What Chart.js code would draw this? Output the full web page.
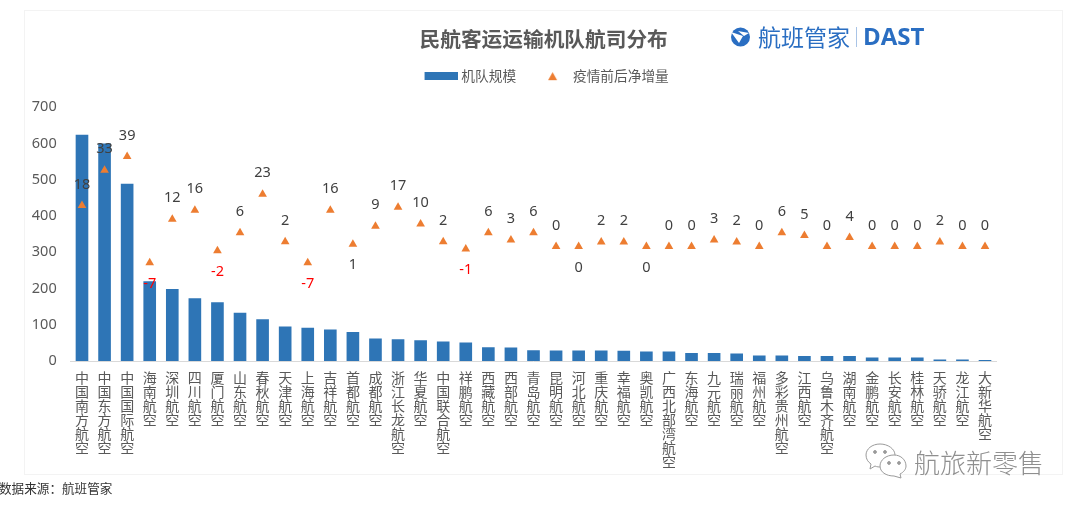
<!DOCTYPE html>
<html lang="zh">
<head>
<meta charset="utf-8">
<title>民航客运运输机队航司分布</title>
<script src="https://cdn.jsdelivr.net/npm/chart.js@4"></script>
<style>
    body { margin: 0; background: #fff; overflow: hidden; font-family: "Noto Sans CJK SC", sans-serif; }
    #wrap { position: relative; width: 1080px; height: 510px; overflow: hidden; }
    #card { position: absolute; left: 24px; top: 10px; width: 1037px; height: 463px; border: 1px solid #f3f3f3; }
    canvas { position: absolute; left: 0; top: 0; }
    .note { position: absolute; white-space: nowrap; line-height: 1; }
    #source { left: -1px; top: 482px; font-size: 12.6px; color: #333; }
    #logo-cn { left: 758px; top: 25px; font-size: 23px; color: #2a6ec2; }
    #logo-bar { left: 856px; top: 27px; width: 1px; height: 20px; background: #a9c4e6; }
    #logo-en { left: 863px; top: 24px; font-size: 24px; font-weight: 700; color: #2a6ec2; font-family: "Open Sans", sans-serif; }
    #mark { left: 914px; top: 449px; font-size: 26px; color: #8f8f8f; font-weight: 300; }
    svg { position: absolute; }
</style>
</head>
<body>
<div id="wrap">
    <div id="card"></div>
    <canvas id="fleet-chart" width="1080" height="510"></canvas>
    <svg style="left:730px;top:27px" width="21" height="20" viewBox="0 0 21 20">
        <circle cx="10.5" cy="10" r="9.5" fill="#2a6ec2"/>
        <path d="M1 5 L13 9 L9 16 Z M8 4 L19 6 L14 9 Z" fill="#fff"/>
    </svg>
    <span class="note" id="logo-cn">航班管家</span>
    <div class="note" id="logo-bar"></div>
    <span class="note" id="logo-en">DAST</span>
    <span class="note" id="source">数据来源：航班管家</span>
    <svg style="left:865px;top:443px" width="44" height="36" viewBox="0 0 44 36" fill="#fff" stroke="#9a9a9a" stroke-width="1">
        <path d="M15 1 C7 1 1 6 1 12 C1 16 3 19 6 21 L5 26 L10 23 C12 24 14 24 16 24 C24 24 30 19 30 12 C30 6 23 1 15 1 Z"/>
        <path d="M29 12 C21 12 15 17 15 23 C15 29 21 33 29 33 L36 35 L35 31 C39 29 41 26 41 23 C41 17 36 12 29 12 Z"/>
        <circle cx="10" cy="9" r="1.4" fill="#9a9a9a"/><circle cx="20" cy="9" r="1.4" fill="#9a9a9a"/>
        <circle cx="24" cy="20" r="1.4" fill="#9a9a9a"/><circle cx="34" cy="20" r="1.4" fill="#9a9a9a"/>
    </svg>
    <span class="note" id="mark">航旅新零售</span>
</div>
<script>
const categories = ['中国南方航空', '中国东方航空', '中国国际航空', '海南航空', '深圳航空', '四川航空', '厦门航空',
    '山东航空', '春秋航空', '天津航空', '上海航空', '吉祥航空', '首都航空', '成都航空', '浙江长龙航空', '华夏航空',
    '中国联合航空', '祥鹏航空', '西藏航空', '西部航空', '青岛航空', '昆明航空', '河北航空', '重庆航空', '幸福航空',
    '奥凯航空', '广西北部湾航空', '东海航空', '九元航空', '瑞丽航空', '福州航空', '多彩贵州航空', '江西航空',
    '乌鲁木齐航空', '湖南航空', '金鹏航空', '长安航空', '桂林航空', '天骄航空', '龙江航空', '大新华航空'];

// bar heights
const fleetSize = [624, 600, 489, 220, 199, 173, 162, 133, 115, 95, 92, 87, 80, 62, 60, 57, 54, 51, 38, 37, 30,
    29, 29, 29, 28, 26, 26, 22, 22, 21, 15, 15, 14, 14, 14, 10, 10, 10, 4, 4, 3];

// height of the triangles on the value axis
const markerLevel = [429, 526, 564, 271, 391, 416, 304, 354, 460, 329, 271, 416, 322, 372, 424, 378, 329, 309, 354,
    334, 354, 316, 316, 328, 328, 316, 316, 316, 334, 328, 316, 354, 346, 316, 341, 316, 316, 316, 328, 316, 316];

// the numbers printed next to the triangles
const netChange = [18, 33, 39, -7, 12, 16, -2, 6, 23, 2, -7, 16, 1, 9, 17, 10, 2, -1, 6, 3, 6, 0, 0, 2, 2, 0, 0,
    0, 3, 2, 0, 6, 5, 0, 4, 0, 0, 0, 2, 0, 0];

const seriesNames = ['机队规模', '疫情前后净增量'];
const yTicks = { min: 0, max: 700, step: 100 };

const BLUE = '#2e75b6';
const ORANGE = '#ed7d31';
const GREY = '#595959';
const CJK = '"Noto Sans CJK SC", sans-serif';

// these labels sit under their triangle, all the others above
const labelsBelow = ['海南航空', '厦门航空', '上海航空', '首都航空', '祥鹏航空', '河北航空', '奥凯航空'];

// legend keys: canvas a bit wider than the legend box so the text sits closer to the key
function barKey() {
    const c = document.createElement('canvas');
    c.width = 36; c.height = 8;
    const g = c.getContext('2d');
    g.fillStyle = BLUE;
    g.fillRect(3, 0, 33, 8);
    return c;
}
function triangleKey() {
    const c = document.createElement('canvas');
    c.width = 36; c.height = 10;
    const g = c.getContext('2d');
    g.fillStyle = ORANGE;
    g.beginPath();
    g.moveTo(19.5, 1); g.lineTo(24, 9); g.lineTo(15, 9);
    g.closePath();
    g.fill();
    return c;
}

const netLabels = {
    id: 'netLabels',
    afterDatasetsDraw(chart) {
        const { ctx } = chart;
        const points = chart.getDatasetMeta(1).data;
        ctx.save();
        ctx.font = '14.5px "Noto Sans", sans-serif';
        ctx.textAlign = 'center';
        ctx.textBaseline = 'middle';
        points.forEach((pt, i) => {
            const below = labelsBelow.includes(categories[i]);
            ctx.fillStyle = netChange[i] < 0 ? '#ff0000' : '#404040';
            ctx.fillText(netChange[i], pt.x, pt.y + (below ? 21 : -21));
        });
        ctx.restore();
    }
};

// title and legend are centred on the card, not on the plot
const centreHeader = {
    id: 'centreHeader',
    afterLayout(chart) {
        chart.titleBlock.left += 45.5;
        chart.titleBlock.right += 45.5;
        chart.legend.left += 48.5;
        chart.legend.right += 48.5;
        chart.legend.top -= 14.3;
    }
};

new Chart(document.getElementById('fleet-chart').getContext('2d'), {
    data: {
        labels: categories.map(name => name.split('')),
        datasets: [{
            type: 'bar',
            label: seriesNames[0],
            data: fleetSize,
            backgroundColor: BLUE,
            barPercentage: 0.56,
            categoryPercentage: 1,
            order: 2
        }, {
            type: 'line',
            label: seriesNames[1],
            data: markerLevel,
            showLine: false,
            pointStyle: 'triangle',
            pointRadius: 5,
            pointBorderWidth: 0,
            pointBackgroundColor: ORANGE,
            order: 1
        }]
    },
    options: {
        responsive: false,
        animation: false,
        layout: { padding: { left: 0, right: 83.7, top: 0, bottom: 0 } },
        plugins: {
            title: {
                display: true,
                text: '民航客运运输机队航司分布',
                color: GREY,
                font: { family: CJK, size: 20.7, weight: 'bold', lineHeight: 1 },
                padding: { top: 28.5, bottom: 14.4 }
            },
            legend: {
                display: true,
                position: 'top',
                onClick: null,
                labels: {
                    usePointStyle: true,
                    pointStyleWidth: 30,
                    boxHeight: 8,
                    padding: 20,
                    color: GREY,
                    font: { family: CJK, size: 13.7 },
                    generateLabels: chart => chart.data.datasets.map((ds, i) => ({
                        text: ds.label,
                        datasetIndex: i,
                        fontColor: GREY,
                        lineWidth: 0,
                        pointStyle: i === 0 ? barKey() : triangleKey()
                    }))
                }
            },
            tooltip: { enabled: false }
        },
        scales: {
            x: {
                grid: { display: false },
                border: { color: '#d9d9d9', width: 1 },
                ticks: {
                    autoSkip: false,
                    maxRotation: 0,
                    minRotation: 0,
                    padding: 2,
                    color: GREY,
                    font: { family: CJK, size: 14, lineHeight: 1 }
                },
                afterFit: scale => { scale.height = 149; }
            },
            y: {
                min: yTicks.min,
                max: yTicks.max,
                grid: { display: false },
                border: { display: false },
                ticks: {
                    stepSize: yTicks.step,
                    padding: 6,
                    color: GREY,
                    font: { family: '"Noto Sans", sans-serif', size: 14.5 }
                },
                afterFit: scale => { scale.width = 70.7; }
            }
        }
    },
    plugins: [netLabels, centreHeader]
});
</script>
</body>
</html>
